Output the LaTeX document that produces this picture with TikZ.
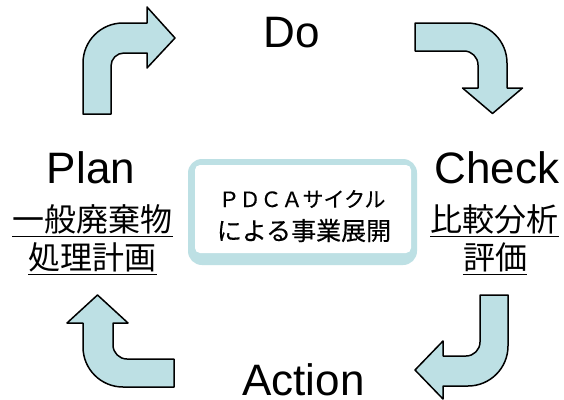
\documentclass[tikz,border=0pt]{standalone}
\usepackage{fontspec}
\setmainfont{Liberation Sans}
\newfontfamily\jp{Noto Sans CJK JP}
\newfontfamily\jpbox[FakeBold=0.3]{Noto Sans CJK JP}
\definecolor{pale}{RGB}{189,224,228}
\begin{document}
\begin{tikzpicture}[x=1pt,y=-1pt,
  bentarrow/.style={fill=pale, draw=black, line width=1.5pt, line join=round},
  eng/.style={font=\fontsize{44}{50}\selectfont, inner sep=0pt, anchor=base, text depth=0pt},
  jpl/.style={font=\jp\fontsize{32}{36}\selectfont, inner sep=0pt, anchor=base},
  boxtxt/.style={inner sep=0pt, anchor=base},
  uline/.style={line width=1.8pt}]
\useasboundingbox (0,0) rectangle (564,399);
\fill[white] (0,0) rectangle (564,399);
% top-left arrow
\draw[bentarrow] (83,114) -- (83,63) arc[start angle=180, end angle=270, radius=40]
  -- (147,23) -- (147,7) -- (175,38) -- (147,68) -- (147,53) -- (124,53)
  arc[start angle=270, end angle=180, radius=13] -- (111,114) -- cycle;
% top-right arrow
\draw[bentarrow] (415,23) -- (467,23) arc[start angle=270, end angle=360, radius=40]
  -- (507,88) -- (522.5,88) -- (492.5,113.5) -- (462.5,88) -- (478,88) -- (478,65)
  arc[start angle=0, end angle=-90, radius=14] -- (415,51) -- cycle;
% bottom-right arrow
\draw[bentarrow] (480,295) -- (508,295) -- (508,346) arc[start angle=0, end angle=90, radius=40]
  -- (443,386) -- (443,399) -- (415,370) -- (443,341) -- (443,356) -- (466,356)
  arc[start angle=90, end angle=0, radius=14] -- cycle;
% bottom-left arrow
\draw[bentarrow] (97.5,295) -- (128,323) -- (113,323) -- (113,345)
  arc[start angle=180, end angle=90, radius=14] -- (174,359) -- (174,387) -- (123,387)
  arc[start angle=90, end angle=180, radius=40] -- (83,323) -- (67,323) -- cycle;
% centre box
\fill[pale, rounded corners=14pt] (188,159) rectangle (417,265);
\fill[white, rounded corners=5pt] (195,165) rectangle (411,253);
\node[boxtxt, font=\jpbox\fontsize{21}{24}\selectfont] (b1) at (302,207) {ＰＤＣＡサイクル};
\node[boxtxt, font=\jpbox\fontsize{25}{28}\selectfont] (b2) at (304,240) {による事業展開};
% labels
\node[eng] (do) at (291.5,47) {Do};
\node[eng] (plan) at (91,183) {Plan};
\node[eng] (check) at (497,183) {Check};
\node[eng] (action) at (303.5,395) {Action};
\node[jpl] (p1) at (92.5,231.5) {一般廃棄物};
\node[jpl] (p2) at (92.5,269.5) {処理計画};
\node[jpl] (c1) at (494.5,231.5) {比較分析};
\node[jpl] (c2) at (495,269.5) {評価};
\foreach \n in {p1,p2,c1,c2}
  \draw[uline] ([yshift=-5pt]\n.base west) -- ([yshift=-5pt]\n.base east);
\end{tikzpicture}
\end{document}
